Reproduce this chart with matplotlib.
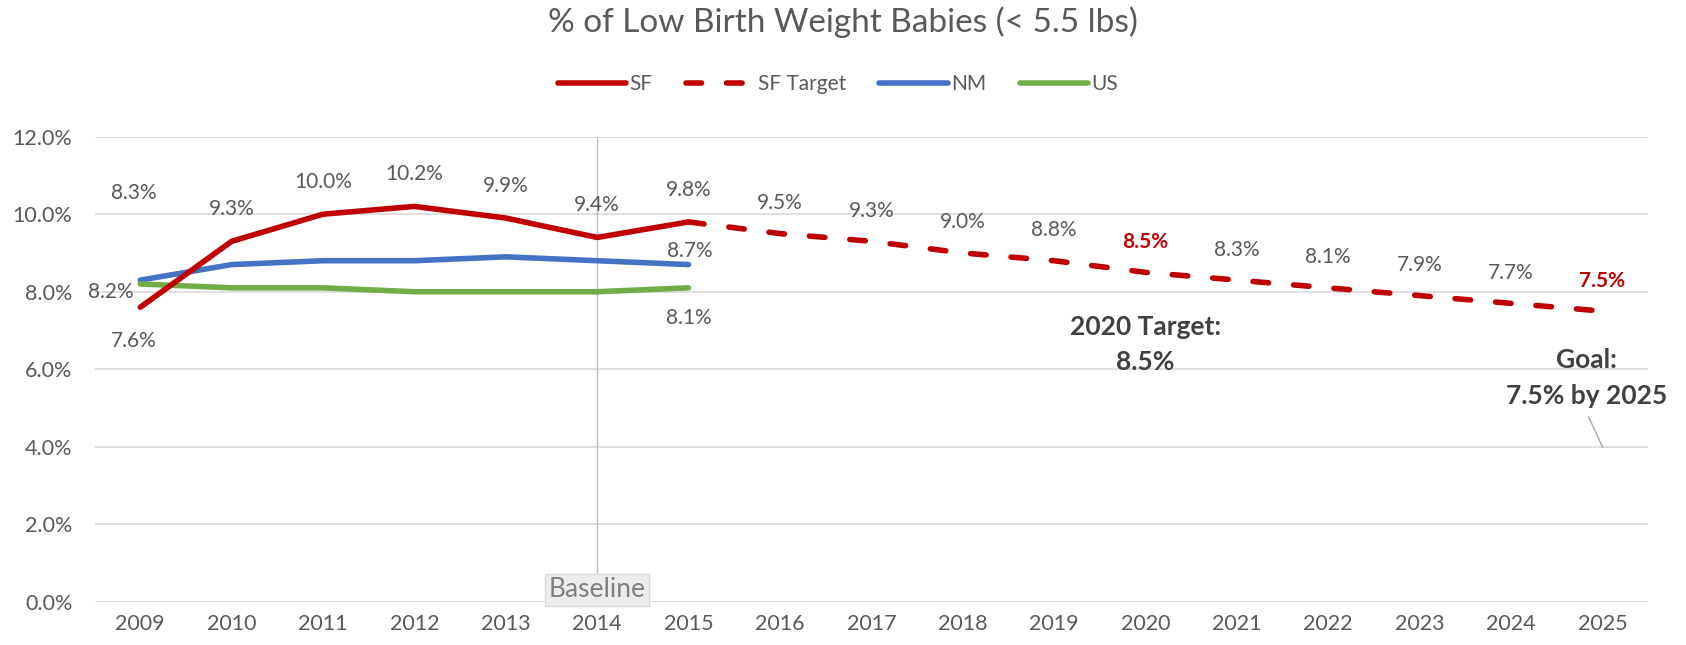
import matplotlib
matplotlib.use("Agg")
import matplotlib.pyplot as plt
from matplotlib.ticker import FuncFormatter

plt.rcParams['font.family'] = ['Lato', 'DejaVu Sans']

years = list(range(2009, 2026))
sf_years = [2009, 2010, 2011, 2012, 2013, 2014, 2015]
sf_vals = [7.6, 9.3, 10.0, 10.2, 9.9, 9.4, 9.8]
target_years = [2015, 2016, 2017, 2018, 2019, 2020, 2021, 2022, 2023, 2024, 2025]
target_vals = [9.8, 9.5, 9.3, 9.0, 8.8, 8.5, 8.3, 8.1, 7.9, 7.7, 7.5]
nm_vals = [8.3, 8.7, 8.8, 8.8, 8.9, 8.8, 8.7]
us_vals = [8.2, 8.1, 8.1, 8.0, 8.0, 8.0, 8.1]
yticks = [0, 2, 4, 6, 8, 10, 12]

RED = '#C00000'
BLUE = '#4472C4'
GREEN = '#70AD47'
TXT = '#595959'
GRID = '#D9D9D9'
LW = 4.0

fig = plt.figure(figsize=(16.86, 6.45), dpi=100)
ax = fig.add_axes([0.0561, 0.0667, 0.9214, 0.7215])

x_of = {y: i for i, y in enumerate(years)}
ax.plot([x_of[y] for y in sf_years], sf_vals, color=RED, lw=LW, solid_capstyle='round', label='SF', zorder=4)
ax.plot([x_of[y] for y in target_years], target_vals, color=RED, lw=LW,
        linestyle=(0, (2.8, 4.5)), dash_capstyle='round', label='SF Target', zorder=4)
ax.plot([x_of[y] for y in sf_years], nm_vals, color=BLUE, lw=LW, solid_capstyle='round', label='NM', zorder=3)
ax.plot([x_of[y] for y in sf_years], us_vals, color=GREEN, lw=LW, solid_capstyle='round', label='US', zorder=3)

ax.set_xlim(-0.5, len(years) - 0.5)
ax.set_ylim(0, 12)
ax.set_yticks(yticks)
ax.yaxis.set_major_formatter(FuncFormatter(lambda v, p: f"{v:.1f}%"))
ax.set_xticks(range(len(years)))
ax.set_xticklabels([str(y) for y in years])
ax.grid(axis='y', color=GRID, lw=1.2)
ax.set_axisbelow(True)
for s in ax.spines.values():
    s.set_visible(False)
ax.tick_params(axis='both', length=0, labelsize=15.5, colors=TXT)
ax.tick_params(axis='y', pad=16)
ax.tick_params(axis='x', pad=9)

lab_fs = 15

def lab(yr, val, dx, dy, color=TXT, weight='normal'):
    ax.annotate(f"{val:.1f}%", (x_of[yr], val), xytext=(dx, dy), textcoords='offset points',
                ha='center', va='center', fontsize=lab_fs, color=color, fontweight=weight, zorder=6)

# SF labels
for yr, v in zip(sf_years, sf_vals):
    if yr == 2009:
        lab(yr, v, -5, -24)
    else:
        lab(yr, v, 0, 23)
# Target labels
for yr, v in zip(target_years[1:], target_vals[1:]):
    if yr in (2020, 2025):
        lab(yr, v, 0, 22, color=RED, weight='bold')
    else:
        lab(yr, v, 0, 22)
# NM labels
lab(2009, nm_vals[0], -5, 63)
lab(2015, nm_vals[-1], 1, 10)
# US labels
lab(2009, us_vals[0], -21, -6)
lab(2015, us_vals[-1], 0, -22)

# Baseline vertical line and label
bx = x_of[2014]
ax.plot([bx, bx], [12, 0.65], color='#BFBFBF', lw=1.0, zorder=2)
ax.text(bx, 0.31, 'Baseline', ha='center', va='center', fontsize=19, color='#7F7F7F', zorder=7,
        bbox=dict(boxstyle='square,pad=0.14', facecolor='#EDEDED', edgecolor='#D9D9D9', lw=1.0),
        clip_on=False)

# Annotations
ANN = '#404040'
ax.text(x_of[2020], 7.08, '2020 Target:', ha='center', va='center', fontsize=19, fontweight='bold', color=ANN)
ax.text(x_of[2020], 6.19, '8.5%', ha='center', va='center', fontsize=19, fontweight='bold', color=ANN)
gx = x_of[2025] - 0.17
ax.text(gx, 6.24, 'Goal:', ha='center', va='center', fontsize=19, fontweight='bold', color=ANN)
ax.text(gx, 5.32, '7.5% by 2025', ha='center', va='center', fontsize=19, fontweight='bold', color=ANN)
ax.plot([x_of[2025] - 0.15, x_of[2025] + 0.0], [4.77, 4.0], color='#A6A6A6', lw=1.0)

fig.text(0.5, 0.966, '% of Low Birth Weight Babies (< 5.5 lbs)', ha='center', va='center',
         fontsize=24, color=TXT)
fig.legend(loc='center', bbox_to_anchor=(0.497, 0.869), ncol=4, frameon=False, fontsize=15,
           handlelength=3.3, handletextpad=0.15, columnspacing=1.6, labelcolor=TXT)

fig.savefig('out.png', dpi=100, facecolor='white')
